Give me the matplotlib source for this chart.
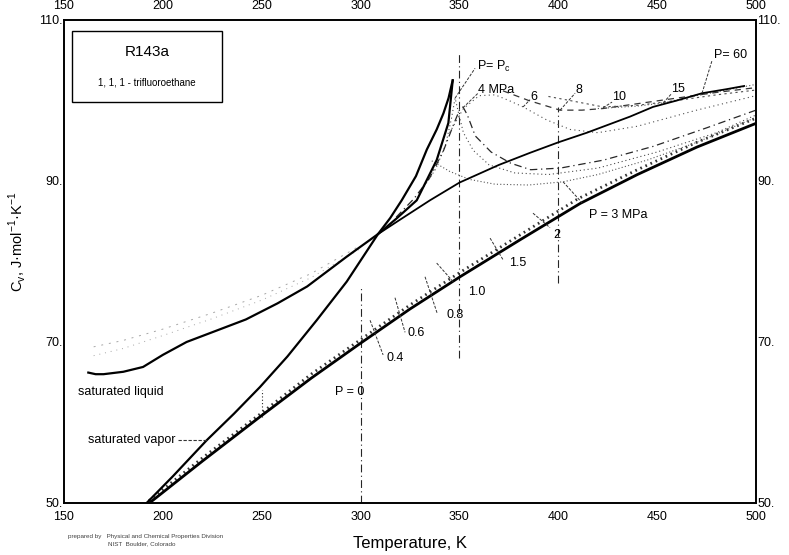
import matplotlib.pyplot as plt
from matplotlib.patches import Rectangle

plt.rcParams['font.family'] = ['Liberation Sans', 'DejaVu Sans']
plt.rcParams['mathtext.fontset'] = 'custom'
plt.rcParams['mathtext.rm'] = 'Liberation Sans'

# temperature (K) and Cv (J/mol/K)
sat_liq_t = [162.3, 166, 170, 180, 190, 200, 212, 227, 242, 258, 273, 293, 308.8,
             318, 328.4, 338.5, 344.4, 346.6]
sat_liq_cv = [66.2, 66.0, 66.0, 66.3, 66.9, 68.4, 70.0, 71.4, 72.8, 74.8, 76.9, 80.6, 83.4,
              85.3, 87.6, 92.6, 97.2, 102.5]

sat_vap_t = [191.0, 205, 222.2, 236, 249.1, 263, 277.8, 293, 308.8, 315, 320.8, 328,
             333.5, 338.5, 341.9, 344.5, 346.1, 346.6]
sat_vap_cv = [49.8, 53.3, 57.8, 61.1, 64.4, 68.2, 72.7, 77.5, 83.4, 85.4, 87.6, 90.6,
              93.9, 96.4, 98.4, 100.3, 102.0, 102.5]

ideal_t = [192.7, 220, 249.1, 275, 299.7, 325, 350.3, 380.7, 411, 440, 470, 500.4]
ideal_cv = [49.9, 55.2, 60.7, 65.5, 69.8, 74.1, 78.1, 82.7, 87.2, 90.8, 94.2, 97.2]

lowp_t = [193, 220, 250, 275, 300, 325, 350, 380, 410, 440, 470, 500]
lowp_cv = [50.3, 55.6, 61.2, 66.0, 70.3, 74.6, 78.6, 83.2, 87.8, 91.4, 94.8, 97.8]

p60_t = [308.8, 320, 335.1, 350, 370, 385.7, 400, 414.5, 436.3, 447.9, 460, 472.7, 485, 494]
p60_cv = [83.4, 85.2, 87.6, 89.8, 92.0, 93.5, 94.8, 96.0, 98.0, 99.2, 100.0, 100.9, 101.4, 101.8]

p4_t = [318, 327, 335, 342, 347, 350, 351.8, 354, 358, 366, 376, 386, 401, 423, 448, 475, 500]
p4_cv = [85.5, 87.8, 90.4, 93.8, 97.0, 98.8, 99.2, 98.2, 95.6, 93.6, 92.2, 91.4, 91.6,
         92.6, 94.3, 96.6, 98.8]

pc_t = [330, 338, 343, 346, 347.8, 349.5, 352, 357, 365, 378, 395, 420, 450, 480, 500]
pc_cv = [88.5, 91.5, 94.5, 97.8, 100.3, 98.5, 96.0, 93.8, 92.0, 91.0, 90.8, 91.6, 93.6, 96.0, 98.2]

p3_t = [336, 345, 355, 368, 385, 402.4, 420, 445, 470, 500]
p3_cv = [92.5, 91.2, 90.2, 89.6, 89.5, 89.9, 90.8, 92.6, 94.8, 97.9]

p6_t = [345, 352, 360, 368, 375, 382.2, 394, 406, 420, 440, 470, 500]
p6_cv = [96.0, 99.0, 100.6, 100.7, 100.0, 99.2, 97.6, 96.4, 96.0, 96.8, 98.8, 100.6]

p8_t = [372, 385, 400.9, 412, 422.6, 440, 460, 480, 500]
p8_cv = [101.2, 100.0, 98.8, 98.8, 99.0, 99.6, 100.3, 101.0, 101.6]

p10_t = [395, 410, 422.6, 440, 460, 480, 500]
p10_cv = [100.5, 99.8, 99.2, 99.4, 100.0, 100.7, 101.3]

p15_t = [420, 440, 453, 470, 485, 500]
p15_cv = [99.0, 99.3, 99.7, 100.6, 101.3, 102.0]

liq_a_t = [165, 180, 200, 225, 250, 275, 300]
liq_a_cv = [68.3, 69.2, 70.8, 72.9, 75.2, 78.0, 81.6]
liq_b_cv = [69.4, 70.2, 71.6, 73.6, 75.8, 78.5, 82.0]

iso_t = [250, 300, 350, 400]
iso_lo = [60.7, 50.0, 68.0, 77.3]
iso_hi = [64.0, 76.8, 105.9, 99.2]

x_ticks = [150, 200, 250, 300, 350, 400, 450, 500]
y_ticks = [50, 70, 90, 110]

# (text, text position, leader start on curve, leader end)
labels = [
    ("P= P$_\\mathrm{c}$", (367.5, 104.2), (347.8, 100.3), (357.9, 104.0)),
    ("4 MPa", (368.5, 101.3), (351.8, 99.1), (359.4, 100.9)),
    ("6", (387.5, 100.4), (382.2, 99.2), (385.7, 100.1)),
    ("8", (410.2, 101.3), (400.9, 98.8), (408.5, 100.9)),
    ("10", (430.5, 100.4), (422.6, 99.1), (427.2, 99.8)),
    ("15", (460.3, 101.4), (453.0, 99.7), (457.5, 100.9)),
    ("P= 60", (487.0, 105.7), (472.7, 100.9), (477.8, 105.0)),
    ("P = 3 MPa", (430.5, 85.8), (402.4, 89.9), (412.0, 87.3)),
    ("2", (399.0, 83.3), (387.2, 86.0), (395.8, 84.2)),
    ("1.5", (379.3, 79.8), (365.5, 82.9), (372.1, 80.2)),
    ("1.0", (359.0, 76.2), (338.5, 79.8), (346.8, 77.5)),
    ("0.8", (348.0, 73.4), (332.6, 78.1), (338.7, 73.6)),
    ("0.6", (328.2, 71.1), (317.4, 75.5), (322.5, 71.2)),
    ("0.4", (317.6, 68.0), (304.8, 72.7), (311.4, 68.4)),
]


def main():
    fig = plt.figure(figsize=(7.89, 5.55), dpi=100)
    ax = fig.add_axes([0.0811, 0.0937, 0.8771, 0.8703])

    # faint liquid-region isobars
    ax.plot(liq_a_t, liq_a_cv, color="0.65", lw=0.7, ls=(0, (1, 5)))
    ax.plot(liq_a_t, liq_b_cv, color="0.65", lw=0.7, ls=(0, (2, 6)))

    # isotherms
    for t, lo, hi in zip(iso_t, iso_lo, iso_hi):
        style = (0, (1, 2)) if t == 250 else (0, (7, 3, 1, 3))
        ax.plot([t, t], [lo, hi], color="0.15", lw=0.8, ls=style)

    # isobars
    ax.plot(lowp_t, lowp_cv, color="0.2", lw=2.0, ls=(0, (0.6, 1.4)))
    ax.plot(p3_t, p3_cv, color="0.35", lw=0.8, ls=(0, (1, 2)))
    ax.plot(pc_t, pc_cv, color="0.3", lw=0.8, ls=(0, (1, 2.5)))
    ax.plot(p4_t, p4_cv, color="0.15", lw=0.9, ls=(0, (6, 3, 1, 3)))
    ax.plot(p6_t, p6_cv, color="0.3", lw=0.8, ls=(0, (1, 3)))
    ax.plot(p8_t, p8_cv, color="0.2", lw=0.9, ls=(0, (5, 4)))
    ax.plot(p10_t, p10_cv, color="0.3", lw=0.8, ls=(0, (2, 3)))
    ax.plot(p15_t, p15_cv, color="0.35", lw=0.8, ls=(0, (1, 2)))
    ax.plot(p60_t, p60_cv, color="black", lw=1.3)

    # saturation lines and ideal gas
    ax.plot(sat_liq_t, sat_liq_cv, color="black", lw=1.6)
    ax.plot(sat_vap_t, sat_vap_cv, color="black", lw=1.6)
    ax.plot(ideal_t, ideal_cv, color="black", lw=2.0)

    for text, pos, p0, p1 in labels:
        ax.plot([p0[0], p1[0]], [p0[1], p1[1]], color="0.2", lw=0.7, ls=(0, (3, 1.5)))
        ax.text(pos[0], pos[1], text, fontsize=9, ha="center", va="center")

    ax.text(157.1, 63.8, "saturated liquid", fontsize=9, ha="left", va="center")
    ax.text(162.1, 57.8, "saturated vapor", fontsize=9, ha="left", va="center")
    ax.plot([207.5, 222.2], [57.8, 57.8], color="0.2", lw=0.8, ls=(0, (3, 1.5)))
    ax.text(294.7, 63.8, "P = 0", fontsize=9, ha="center", va="center")

    # title box
    ax.add_patch(Rectangle((0.0116, 0.830), 0.2166, 0.147, transform=ax.transAxes,
                           fill=False, lw=1.0, color="black"))
    ax.text(0.12, 0.934, "R143a", transform=ax.transAxes, fontsize=11,
            ha="center", va="center")
    ax.text(0.12, 0.870, "1, 1, 1 - trifluoroethane", transform=ax.transAxes,
            fontsize=7, ha="center", va="center")

    ax.set_xlim(150, 500)
    ax.set_ylim(50, 110)
    ax.set_xticks(x_ticks)
    ax.set_yticks(y_ticks)
    ax.set_yticklabels(["%d." % v for v in y_ticks])
    ax.tick_params(axis="both", length=0, labelsize=9, pad=6,
                   top=True, labeltop=True, right=True, labelright=True)
    ax.tick_params(axis="y", pad=1)
    for s in ax.spines.values():
        s.set_linewidth(1.4)

    ax.set_xlabel("Temperature, K", fontsize=12, labelpad=9)
    ax.set_ylabel("C$_\\mathrm{v}$, J·mol$^{-1}$·K$^{-1}$", fontsize=10.5)
    ax.yaxis.set_label_coords(-0.052, 0.54)

    fig.text(0.086, 0.030, "prepared by   Physical and Chemical Properties Division",
             fontsize=4.5, color="0.25")
    fig.text(0.137, 0.017, "NIST  Boulder, Colorado", fontsize=4.5, color="0.25")

    plt.savefig("out.png", dpi=100)


if __name__ == "__main__":
    main()
